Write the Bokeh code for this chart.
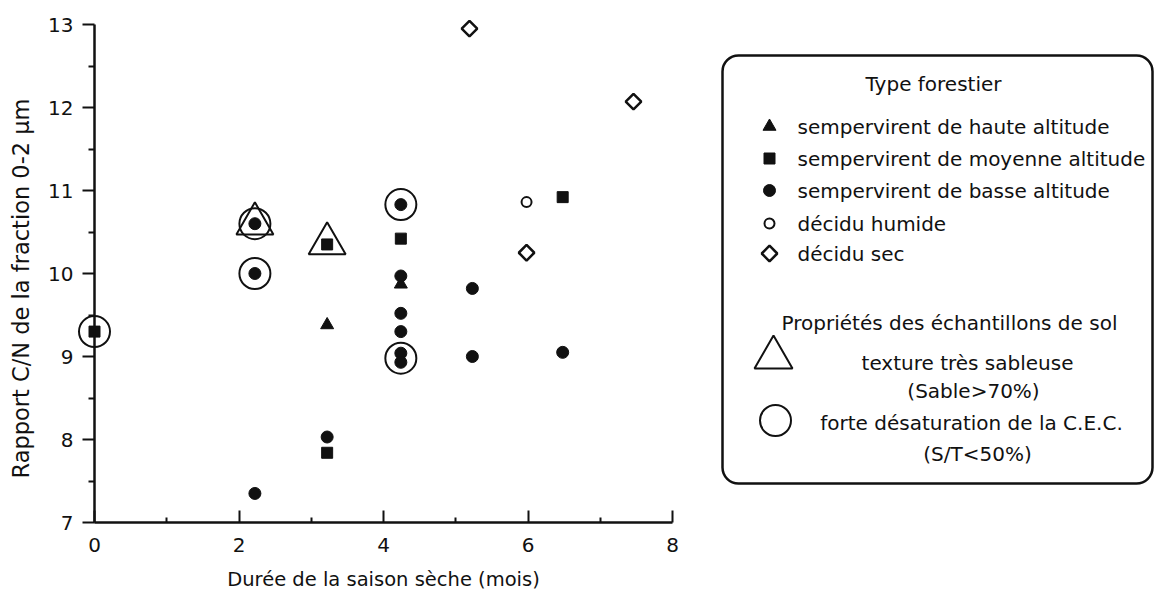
import numpy as np
from bokeh.plotting import figure
from bokeh.models import LinearAxis, FixedTicker, Label, BoxAnnotation, Range1d
from bokeh.embed import file_html
from bokeh.resources import INLINE

# ---------------- data ----------------
haute_x = [3.22, 4.24]
haute_y = [9.38, 9.87]
moyenne_x = [0.0, 3.22, 3.22, 4.24, 6.48]
moyenne_y = [9.30, 10.35, 7.84, 10.42, 10.92]
basse_x = [2.22, 2.22, 2.22, 3.22, 4.24, 4.24, 4.24, 4.24, 4.24, 4.24, 5.23, 5.23, 6.48]
basse_y = [10.60, 10.00, 7.35, 8.03, 10.83, 9.97, 9.52, 9.30, 9.04, 8.93, 9.82, 9.00, 9.05]
humide_x = [5.98]
humide_y = [10.86]
sec_x = [5.19, 5.98, 7.46]
sec_y = [12.95, 10.25, 12.07]
# soil properties
sable_x = [2.22, 3.22]
sable_y = [10.60, 10.36]
desat_x = [0.0, 2.22, 2.22, 4.24, 4.24]
desat_y = [9.30, 10.60, 10.00, 10.83, 8.98]

x_ticks = [0, 2, 4, 6, 8]
x_minor = [1, 3, 5, 7]
y_ticks = [7, 8, 9, 10, 11, 12, 13]
y_minor = [7.5, 8.5, 9.5, 10.5, 11.5, 12.5]

legend_title_1 = "Type forestier"
legend_labels = ["sempervirent de haute altitude",
                 "sempervirent de moyenne altitude",
                 "sempervirent de basse altitude",
                 "décidu humide",
                 "décidu sec"]
legend_title_2 = "Propriétés des échantillons de sol"

# ---------------- layout helpers (page pixels -> data) ----------------
W, H = 1155, 591
PX0, PXS = 94.0, 72.25      # page x of x=0, pixels per unit
PY13, PYS = 24.0, 83.0      # page y of y=13, pixels per unit


def dx(px):
    return (px - PX0) / PXS


def dy(py):
    return 13 - (py - PY13) / PYS


INK = "#111111"
FONT = "DejaVu Sans"

p = figure(width=W, height=H,
           x_range=Range1d(dx(0), dx(W)), y_range=Range1d(dy(H), dy(0)),
           x_axis_type=None, y_axis_type=None,
           output_backend="svg", toolbar_location=None,
           min_border=0, min_border_left=0, min_border_right=0,
           min_border_top=0, min_border_bottom=0,
           outline_line_color=None, background_fill_color="white",
           border_fill_color="white")

yax = LinearAxis(fixed_location=0, bounds=(7, 13),
                 ticker=FixedTicker(ticks=y_ticks, minor_ticks=y_minor),
                 major_tick_out=12, major_tick_in=0,
                 minor_tick_out=6, minor_tick_in=0,
                 axis_line_width=2.5, axis_line_color=INK,
                 major_tick_line_width=2, major_tick_line_color=INK,
                 minor_tick_line_width=2, minor_tick_line_color=INK,
                 major_label_text_font=FONT, major_label_text_font_size="20px",
                 major_label_text_color=INK, major_label_standoff=9)
p.add_layout(yax, "left")

xax = LinearAxis(fixed_location=7, bounds=(0, 8),
                 ticker=FixedTicker(ticks=x_ticks, minor_ticks=x_minor),
                 major_tick_out=0, major_tick_in=12,
                 minor_tick_out=0, minor_tick_in=5,
                 axis_line_width=2.5, axis_line_color=INK,
                 major_tick_line_width=2, major_tick_line_color=INK,
                 minor_tick_line_width=2, minor_tick_line_color=INK,
                 major_label_text_font=FONT, major_label_text_font_size="20px",
                 major_label_text_color=INK, major_label_standoff=15,
                 axis_label="Durée de la saison sèche (mois)",
                 axis_label_text_font=FONT, axis_label_text_font_size="19.5px",
                 axis_label_text_font_style="normal", axis_label_text_color=INK,
                 axis_label_standoff=13)
p.add_layout(xax, "below")

p.add_layout(Label(x=dx(20), y=dy(288), text="Rapport C/N de la fraction 0-2 µm",
                   angle=np.pi / 2, text_align="center", text_baseline="middle",
                   text_font=FONT, text_font_size="22.5px", text_color=INK))

# ---------------- data marks ----------------
p.scatter(sable_x, sable_y, marker="triangle", size=37, fill_alpha=0,
          line_color=INK, line_width=2)
p.scatter(desat_x, desat_y, marker="circle", size=31, fill_alpha=0,
          line_color=INK, line_width=2)
p.scatter(haute_x, haute_y, marker="triangle", size=13, color=INK)
p.scatter(moyenne_x, moyenne_y, marker="square", size=11, color=INK)
p.scatter(basse_x, basse_y, marker="circle", size=12, color=INK)
p.scatter(humide_x, humide_y, marker="circle", size=10, fill_color="white",
          line_color=INK, line_width=2)
p.scatter(sec_x, sec_y, marker="square", angle=np.pi / 4, size=11,
          fill_color="white", line_color=INK, line_width=2.5)

# ---------------- legend box ----------------
p.add_layout(BoxAnnotation(left=dx(722), right=dx(1152), top=dy(55), bottom=dy(483),
                           fill_color=None, fill_alpha=0, line_color=INK,
                           line_alpha=1.0, line_width=2.5, border_radius=16))

p.add_layout(Label(x=dx(933), y=dy(83), text=legend_title_1, text_align="center",
                   text_baseline="middle", text_font=FONT, text_font_size="20px",
                   text_color=INK))

leg_py = [126, 158, 190, 223, 253]
leg_mx = dx(769)
p.scatter([leg_mx], [dy(leg_py[0])], marker="triangle", size=13, color=INK)
p.scatter([leg_mx], [dy(leg_py[1])], marker="square", size=11, color=INK)
p.scatter([leg_mx], [dy(leg_py[2])], marker="circle", size=12, color=INK)
p.scatter([leg_mx], [dy(leg_py[3])], marker="circle", size=10, fill_color="white",
          line_color=INK, line_width=2)
p.scatter([leg_mx], [dy(leg_py[4])], marker="square", angle=np.pi / 4, size=11,
          fill_color="white", line_color=INK, line_width=2.5)
for lbl, py in zip(legend_labels, leg_py):
    p.add_layout(Label(x=dx(797), y=dy(py), text=lbl, text_align="left",
                       text_baseline="middle", text_font=FONT, text_font_size="20px",
                       text_color=INK))

p.add_layout(Label(x=dx(949), y=dy(322), text=legend_title_2, text_align="center",
                   text_baseline="middle", text_font=FONT, text_font_size="20px",
                   text_color=INK))
p.scatter([dx(773)], [dy(357)], marker="triangle", size=38, fill_alpha=0,
          line_color=INK, line_width=2)
p.scatter([dx(775)], [dy(420)], marker="circle", size=31, fill_alpha=0,
          line_color=INK, line_width=2)
for txt, px, py in [("texture très sableuse", 967, 362),
                    ("(Sable>70%)", 973, 390),
                    ("forte désaturation de la C.E.C.", 971, 422),
                    ("(S/T<50%)", 977, 453)]:
    p.add_layout(Label(x=dx(px), y=dy(py), text=txt, text_align="center",
                       text_baseline="middle", text_font=FONT, text_font_size="20px",
                       text_color=INK))

open("out.html", "w").write(file_html(p, INLINE))
